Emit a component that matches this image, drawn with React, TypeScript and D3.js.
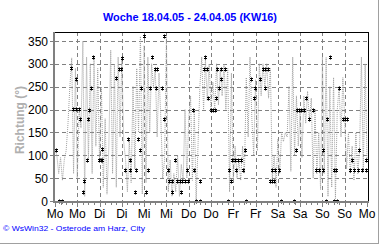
import React from 'react';
import * as d3 from 'd3';

const title = 'Woche 18.04.05 - 24.04.05 (KW16)';
const footer = '\u00A9 WsWin32 - Osterode am Harz, City';
const yTitle = 'Richtung (\u00B0)';
const dayLabels = ['Mo', 'Mo', 'Di', 'Di', 'Mi', 'Mi', 'Do', 'Do', 'Fr', 'Fr', 'Sa', 'Sa', 'So', 'So', 'Mo'];
const yTicks = [0, 50, 100, 150, 200, 250, 300, 350];

// hourly wind direction (dotted line), hours 0..168
const direction = [
  112, 100, 60, 95, 45, 90, 110, 170, 250, 313, 60, 290, 50, 200, 160, 350, 10, 315, 90, 300,
  60, 316, 120, 290, 85, 250, 30, 180, 15, 120, 330, 60, 300, 30, 315, 140, 313, 130, 90, 20,
  135, 40, 250, 70, 290, 150, 360, 15, 340, 40, 315, 150, 300, 250, 290, 140, 280, 180, 50, 90,
  360, 20, 90, 10, 60, 20, 100, 10, 80, 44, 200, 50, 180, 230, 45, 200, 0, 120, 250, 315,
  200, 310, 220, 300, 200, 260, 200, 300, 210, 290, 230, 300, 200, 290, 20, 280, 45, 120, 50, 90,
  45, 120, 60, 270, 140, 315, 180, 100, 265, 110, 300, 230, 300, 250, 300, 225, 290, 44, 100, 30,
  135, 60, 150, 130, 150, 140, 250, 65, 315, 100, 230, 120, 200, 95, 230, 170, 240, 175, 225, 50,
  200, 60, 150, 25, 315, 60, 314, 10, 250, 30, 270, 5, 200, 250, 140, 270, 180, 70, 150, 60,
  120, 45, 150, 60, 110, 315, 65, 300, 90,
];

// marker points (hour of week, direction)
const markerHours = [
  0.5, 8.8, 11.3, 9.7, 11.3, 12.9, 13.5, 20.6, 19.5, 18.5, 17.8, 17.1, 15.6, 14.9, 25.3, 23.7, 24.5, 25.3,
  33, 47.8, 36.2, 34.5, 35.5, 46.3, 51, 54.5, 57.8, 52.1, 53.9, 54.9, 58.9, 39.1, 44.9, 45.9, 40.2,
  37.7, 40.4, 43.6, 49.9, 43.1, 48.8, 58.9, 64.6, 60.7, 61.4, 63, 65.7, 67.3, 63.2, 68.4, 70, 71.6,
  67.7, 71.2, 74.9, 74.5, 78.1, 80.9, 80.2, 81.9, 82.4, 84, 85.1, 86.2, 86.7, 87.2, 89.4, 91.5, 88.5,
  89.6, 93.9, 95.3, 96.9, 98.5, 100.2, 94.9, 97.5, 101, 102.3, 105.5, 107.7, 110.2, 112, 113.1, 114.7,
  113.1, 107, 115.8, 116.9, 118, 116.9, 118.5, 120.6, 129.8, 130.3, 131.4, 132.5, 134.1, 135.2, 138.8,
  136.9, 144.2, 146.6, 148.1, 140.5, 142.2, 144.2, 150.2, 151.3, 152.8, 155.1, 156.2, 157.2, 159.9,
  163.9, 158.9, 161.1, 163.2, 165.3, 167.4, 167.4,
  2, 4, 76, 78, 93, 103, 121.5, 128.5, 146, 150, 152,
];
const markerValues = [
  112, 290, 267, 201, 201, 201, 179, 316, 247, 200, 179, 90, 44, 20, 114, 90, 90, 90,
  268, 360, 313, 289, 289, 247, 247, 247, 247, 314, 289, 289, 179, 135, 135, 112, 90,
  68, 68, 68, 68, 20, 20, 360, 90, 68, 44, 44, 44, 44, 20, 44, 44, 44,
  20, 68, 68, 200, 44, 314, 289, 289, 225, 200, 200, 200, 225, 289, 289, 289, 247,
  267, 68, 90, 90, 90, 90, 44, 68, 68, 112, 267, 247, 267, 289, 289, 289,
  247, 225, 44, 44, 44, 68, 68, 68, 112, 200, 200, 200, 200, 225, 200,
  179, 112, 179, 314, 68, 68, 68, 68, 68, 247, 179, 179, 179, 90,
  112, 68, 68, 68, 68, 68, 90,
  0, 0, 0, 0, 0, 0, 0, 0, 0, 0, 0,
];

const W = 380;
const H = 245;
const left = 55;
const right = 367;
const top = 32;
const bottom = 201;

export default function App() {
  const x = d3.scaleLinear().domain([0, 168]).range([left, right]);
  const y = d3.scaleLinear().domain([0, 350]).range([bottom, 41]);
  const line = d3
    .line<number>()
    .x((_, i) => x(i))
    .y((d) => y(d));
  const halfDays = d3.range(0, 169, 12);
  const minor = d3.range(0, 169, 3);
  const font = 'Arial, "Liberation Sans", sans-serif';
  const markerPath = 'M-1.5,-1.5L1.5,1.5M-1.5,1.5L1.5,-1.5M0,-2V2';

  return (
    <svg width={W} height={H} style={{ position: 'absolute', left: 0, top: 0, background: '#fff' }}>
      <rect x={0} y={0} width={W} height={H} fill="#fff" />
      {/* frame */}
      <line x1={W - 1.5} y1={0} x2={W - 1.5} y2={H - 1} stroke="#a0a0a0" strokeWidth={1} />
      <line x1={0} y1={H - 1.5} x2={W - 1} y2={H - 1.5} stroke="#a0a0a0" strokeWidth={1} />

      <text x={190} y={21} textAnchor="middle" fontFamily={font} fontWeight="bold" fontSize={11.5} fill="#0000ff" textLength={174} lengthAdjust="spacingAndGlyphs">
        {title}
      </text>

      {/* grid */}
      {yTicks.filter((t) => t > 0).map((t) => (
        <line key={'h' + t} x1={left} x2={right + 1} y1={Math.round(y(t)) + 0.5} y2={Math.round(y(t)) + 0.5} stroke="#808080" strokeDasharray="4,3" />
      ))}
      {halfDays.slice(1, -1).map((h) => (
        <line key={'v' + h} x1={Math.round(x(h)) + 0.5} x2={Math.round(x(h)) + 0.5} y1={top} y2={bottom} stroke="#808080" strokeDasharray="4,3" />
      ))}

      {/* data line */}
      <path d={line(direction) || ''} fill="none" stroke="#a0a0a0" strokeWidth={1} strokeDasharray="1,1" />

      {/* markers */}
      {markerHours.map((h, i) => (
        <path key={'m' + i} d={markerPath} transform={`translate(${Math.round(x(h)) + 0.5},${Math.round(y(markerValues[i])) + 0.5})`} stroke="#000" strokeWidth={1} fill="none" />
      ))}

      {/* border top / right */}
      <line x1={left} x2={right + 1.5} y1={top + 0.5} y2={top + 0.5} stroke="#000" />
      <line x1={right + 1.5} x2={right + 1.5} y1={top} y2={bottom + 1} stroke="#000" />

      {/* axes */}
      <line x1={left - 1} x2={left - 1} y1={top} y2={bottom + 2} stroke="#808080" strokeWidth={2} />
      <line x1={left - 2} x2={right + 2} y1={bottom + 1} y2={bottom + 1} stroke="#808080" strokeWidth={2} />
      {yTicks.map((t) => (
        <g key={'yt' + t}>
          <line x1={left - 5} x2={left - 2} y1={Math.round(y(t)) + 0.5} y2={Math.round(y(t)) + 0.5} stroke="#808080" />
          <text x={48} y={y(t) + 4.5} textAnchor="end" fontFamily={font} fontSize={12} fill="#000">
            {t}
          </text>
        </g>
      ))}
      {minor.map((h) => (
        <line key={'mt' + h} x1={Math.round(x(h)) + 0.5} x2={Math.round(x(h)) + 0.5} y1={bottom + 2} y2={bottom + (h % 12 === 0 ? 6 : 4)} stroke="#808080" />
      ))}
      {halfDays.map((h, i) => (
        <text key={'xl' + h} x={x(h)} y={218} textAnchor="middle" fontFamily={font} fontSize={12} fill="#000">
          {dayLabels[i]}
        </text>
      ))}

      <text transform={`translate(24,120) rotate(-90)`} textAnchor="middle" fontFamily={font} fontWeight="bold" fontSize={12} fill="#b0b0b0">
        {yTitle}
      </text>

      <text x={3} y={231} fontFamily={font} fontSize={7} fill="#0000ff" textLength={142} lengthAdjust="spacingAndGlyphs">
        {footer}
      </text>
    </svg>
  );
}
